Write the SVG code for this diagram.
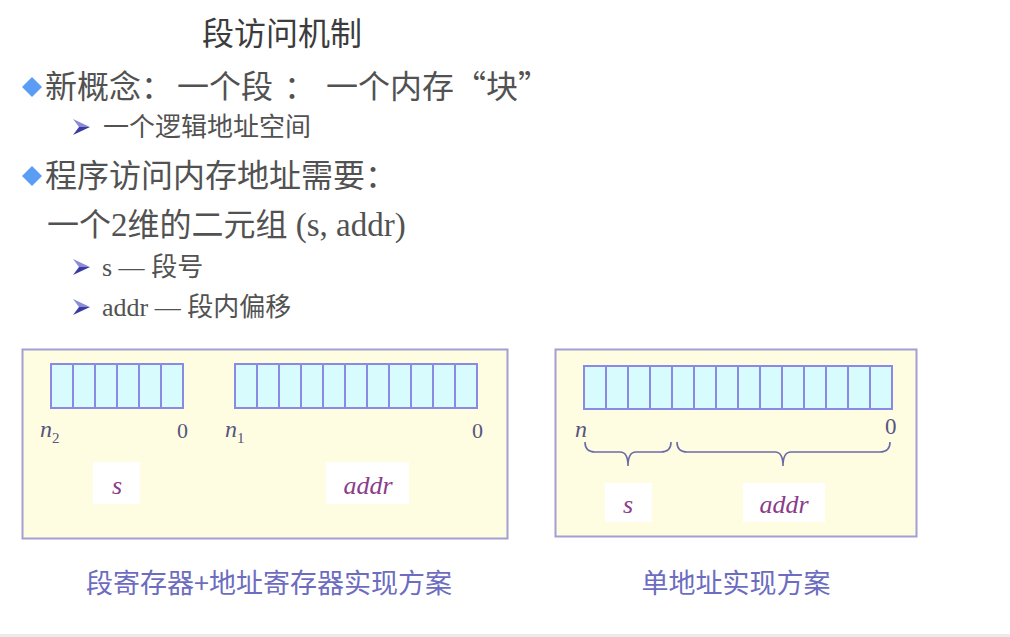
<svg xmlns="http://www.w3.org/2000/svg" width="1010" height="637" viewBox="0 0 1010 637">
<style>
.cjk{font-family:"Noto Sans CJK SC","Liberation Serif",sans-serif;fill:#525252}
.lat{font-family:"Liberation Serif","Noto Sans CJK SC",serif;fill:#525252}
.panel{fill:#fffde1;stroke:#a39fd2;stroke-width:2}
.cell{fill:#d8fbfd;stroke:#8a8ae6;stroke-width:2}
.lbl{font-family:"Liberation Serif",serif;fill:#55557f}
.var{font-family:"Liberation Serif",serif;font-style:italic;fill:#8a3d8a;font-size:26px}
.wbox{fill:#ffffff}
.cap{font-family:"Noto Sans CJK SC",sans-serif;fill:#6c6cc0;font-size:27px}
.brace{fill:none;stroke:#6a6aa8;stroke-width:1.6}
.dia{fill:#5b9cf4}
</style>
<defs>
<g id="arrow">
<polygon points="-8,-8 9,0 -2,0" fill="#8a8ad8"/>
<polygon points="-8,8 9,0 -2,0" fill="#3a3aa0"/>
</g>
</defs>
<rect x="0" y="0" width="1010" height="637" fill="#ffffff"/>
<rect x="0" y="634" width="1010" height="3" fill="#ebebeb"/>

<g id="title">
<text class="cjk" x="202" y="45" font-size="32" style="fill:#3c3c3c">段访问机制</text>
</g>

<g id="line1">
<polygon class="dia" points="32,77 42,87 32,97 22,87"/>
<text class="cjk" x="45" y="98" font-size="32">新概念：</text>
<text class="cjk" x="177" y="98" font-size="32">一个段</text>
<text class="cjk" x="284" y="98" font-size="32">：</text>
<text class="cjk" x="326" y="98" font-size="32">一个内存“块”</text>
</g>

<g id="sub1">
<use href="#arrow" x="81" y="127"/>
<text class="cjk" x="103" y="136" font-size="26">一个逻辑地址空间</text>
</g>

<g id="line2">
<polygon class="dia" points="32,166 42,176 32,186 22,176"/>
<text class="cjk" x="45" y="187" font-size="32">程序访问内存地址需要：</text>
</g>

<g id="line3">
<text class="cjk" x="47" y="236" font-size="32">一个<tspan class="lat" font-size="33">2</tspan>维的二元组<tspan class="lat" font-size="33"> (s, addr)</tspan></text>
</g>

<g id="sub2">
<use href="#arrow" x="81" y="267"/>
<text class="lat" x="102" y="276" font-size="26">s — <tspan class="cjk">段号</tspan></text>
</g>

<g id="sub3">
<use href="#arrow" x="81" y="307"/>
<text class="lat" x="102" y="316" font-size="26">addr — <tspan class="cjk">段内偏移</tspan></text>
</g>

<g id="panel-left">
<rect class="panel" x="22.5" y="349.5" width="485" height="189"/>
<g id="seg-register">
<rect class="cell" x="51" y="364" width="22" height="44"/>
<rect class="cell" x="73" y="364" width="22" height="44"/>
<rect class="cell" x="95" y="364" width="22" height="44"/>
<rect class="cell" x="117" y="364" width="22" height="44"/>
<rect class="cell" x="139" y="364" width="22" height="44"/>
<rect class="cell" x="161" y="364" width="22" height="44"/>
</g>
<g id="addr-register">
<rect class="cell" x="235" y="364" width="22" height="44"/>
<rect class="cell" x="257" y="364" width="22" height="44"/>
<rect class="cell" x="279" y="364" width="22" height="44"/>
<rect class="cell" x="301" y="364" width="22" height="44"/>
<rect class="cell" x="323" y="364" width="22" height="44"/>
<rect class="cell" x="345" y="364" width="22" height="44"/>
<rect class="cell" x="367" y="364" width="22" height="44"/>
<rect class="cell" x="389" y="364" width="22" height="44"/>
<rect class="cell" x="411" y="364" width="22" height="44"/>
<rect class="cell" x="433" y="364" width="22" height="44"/>
<rect class="cell" x="455" y="364" width="22" height="44"/>
</g>
<text class="lbl" x="40" y="437" font-size="24" font-style="italic">n<tspan font-size="15" font-style="normal" dy="6">2</tspan></text>
<text class="lbl" x="177" y="438" font-size="22">0</text>
<text class="lbl" x="225" y="437" font-size="24" font-style="italic">n<tspan font-size="15" font-style="normal" dy="6">1</tspan></text>
<text class="lbl" x="472" y="438" font-size="22">0</text>
<g id="s-left">
<rect class="wbox" x="93" y="462" width="47" height="42"/>
<text class="var" x="117" y="494" text-anchor="middle">s</text>
</g>
<g id="addr-left">
<rect class="wbox" x="326" y="462" width="83" height="42"/>
<text class="var" x="368" y="494" text-anchor="middle">addr</text>
</g>
</g>

<g id="panel-right">
<rect class="panel" x="555.5" y="349.5" width="361" height="187"/>
<g id="single-register">
<rect class="cell" x="584" y="366" width="22" height="43"/>
<rect class="cell" x="606" y="366" width="22" height="43"/>
<rect class="cell" x="628" y="366" width="22" height="43"/>
<rect class="cell" x="650" y="366" width="22" height="43"/>
<rect class="cell" x="672" y="366" width="22" height="43"/>
<rect class="cell" x="694" y="366" width="22" height="43"/>
<rect class="cell" x="716" y="366" width="22" height="43"/>
<rect class="cell" x="738" y="366" width="22" height="43"/>
<rect class="cell" x="760" y="366" width="22" height="43"/>
<rect class="cell" x="782" y="366" width="22" height="43"/>
<rect class="cell" x="804" y="366" width="22" height="43"/>
<rect class="cell" x="826" y="366" width="22" height="43"/>
<rect class="cell" x="848" y="366" width="22" height="43"/>
<rect class="cell" x="870" y="366" width="22" height="43"/>
</g>
<text class="lbl" x="575" y="437" font-size="24" font-style="italic">n</text>
<text class="lbl" x="885" y="434" font-size="23">0</text>
<g id="s-right">
<rect class="wbox" x="605" y="483" width="47" height="39"/>
<text class="var" x="628" y="513" text-anchor="middle">s</text>
</g>
<g id="addr-right">
<rect class="wbox" x="743" y="483" width="82" height="39"/>
<text class="var" x="784" y="513" text-anchor="middle">addr</text>
</g>
</g>

<g id="connectors">
<path class="brace" d="M585,442 Q585,452 595,452 L620,452 Q628,452 628,466 Q628,452 636,452 L661,452 Q671,452 671,442"/>
<path class="brace" d="M677,442 Q677,452 687,452 L775,452 Q783,452 783,466 Q783,452 791,452 L880,452 Q890,452 890,442"/>
</g>

<g id="captions">
<text class="cap" x="269" y="593" text-anchor="middle">段寄存器+地址寄存器实现方案</text>
<text class="cap" x="736" y="593" text-anchor="middle">单地址实现方案</text>
</g>
</svg>
